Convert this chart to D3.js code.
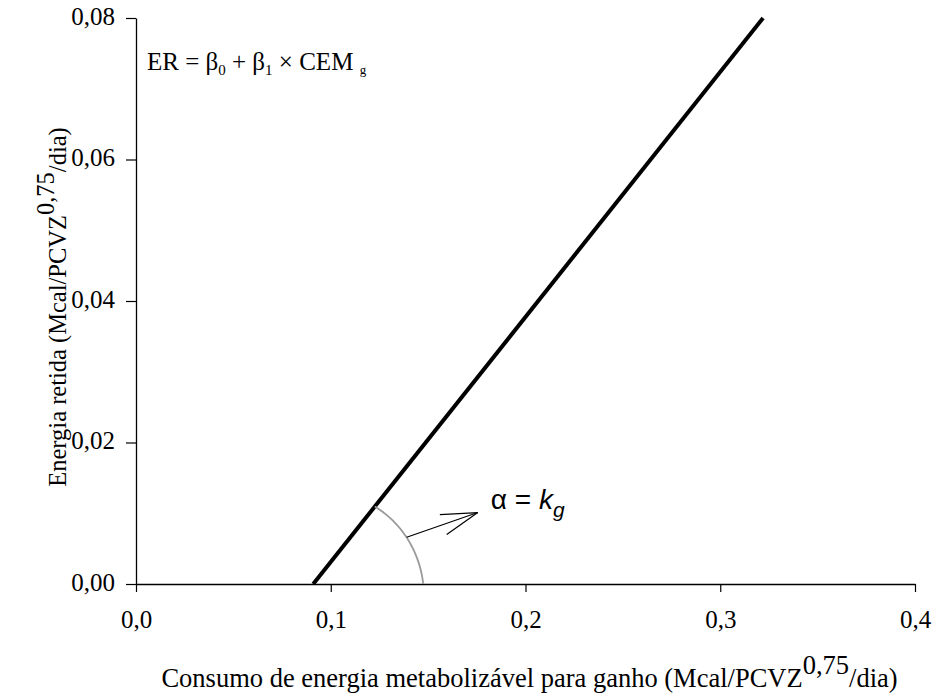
<!DOCTYPE html>
<html>
<head>
<meta charset="utf-8">
<script src="https://cdn.jsdelivr.net/npm/d3@7"></script>
<style>
  html, body { margin: 0; padding: 0; background: #fff; }
  svg { display: block; }
</style>
</head>
<body>
<svg id="chart" width="938" height="699"></svg>
<script>
// ---- data ----
const xTicks = [0.0, 0.1, 0.2, 0.3, 0.4];
const yTicks = [0.00, 0.02, 0.04, 0.06, 0.08];
const xTickLabels = ["0,0", "0,1", "0,2", "0,3", "0,4"];
const yTickLabels = ["0,00", "0,02", "0,04", "0,06", "0,08"];
const lineX = [0.091, 0.322];      // CEMg
const lineY = [0.000, 0.080];      // ER
const arrowFrom = [0.139, 0.0066];
const arrowTo = [0.1755, 0.0101];
const xTitle = "Consumo de energia metabolizável para ganho (Mcal/PCVZ";
const yTitle = "Energia retida (Mcal/PCVZ";
const unitSup = "0,75";
const unitEnd = "/dia)";

// ---- layout ----
const margin = { left: 136, right: 23, top: 18, bottom: 115 };
const W = 938, H = 699;
const svg = d3.select("#chart");
const x = d3.scaleLinear().domain([0, 0.4]).range([margin.left, W - margin.right]);
const y = d3.scaleLinear().domain([0, 0.08]).range([H - margin.bottom, margin.top]);
const serif = "'Liberation Serif', 'Times New Roman', serif";
const sans = "'Liberation Sans', Arial, sans-serif";

// axes
const xAxis = d3.axisBottom(x).tickValues(xTicks).tickSize(8).tickSizeOuter(0)
  .tickFormat((d, i) => xTickLabels[i]);
const gx = svg.append("g").attr("transform", `translate(0,${y(0)})`).call(xAxis);
gx.select(".domain").attr("stroke", "#000").attr("stroke-width", 1.3);
gx.selectAll(".tick line").attr("stroke", "#000").attr("stroke-width", 1.2);
gx.selectAll(".tick text").attr("font-family", serif).attr("font-size", 25)
  .attr("fill", "#000").attr("y", 44).attr("dy", 0);

const yAxis = d3.axisLeft(y).tickValues(yTicks).tickSize(10).tickSizeOuter(0)
  .tickFormat((d, i) => yTickLabels[i]);
const gy = svg.append("g").attr("transform", `translate(${x(0)},0)`).call(yAxis);
gy.select(".domain").attr("stroke", "#000").attr("stroke-width", 1.3);
gy.selectAll(".tick line").attr("stroke", "#000").attr("stroke-width", 1.2);
gy.selectAll(".tick text").attr("font-family", serif).attr("font-size", 25)
  .attr("fill", "#000").attr("x", -21).attr("dy", "0.25em");

// regression line
const pts = lineX.map((v, i) => [v, lineY[i]]);
svg.append("path").datum(pts)
  .attr("d", d3.line().x(d => x(d[0])).y(d => y(d[1])))
  .attr("fill", "none").attr("stroke", "#000").attr("stroke-width", 4);

// angle arc (centered at the x-intercept)
const cx = x(lineX[0]), cy = y(lineY[0]);
const ang = Math.atan2(y(lineY[0]) - y(lineY[1]), x(lineX[1]) - x(lineX[0]));
const r0 = 110, r1 = 99;
const arcPts = d3.range(0, 41).map(k => {
  const t = k / 40, a = t * ang, r = r0 + (r1 - r0) * t;
  return [cx + r * Math.cos(a), cy - r * Math.sin(a)];
});
svg.append("path").attr("d", d3.line()(arcPts))
  .attr("fill", "none").attr("stroke", "#9a9a9a").attr("stroke-width", 1.8);

// arrow
const ax0 = x(arrowFrom[0]), ay0 = y(arrowFrom[1]);
const ax1 = x(arrowTo[0]), ay1 = y(arrowTo[1]);
svg.append("line").attr("x1", ax0).attr("y1", ay0).attr("x2", ax1).attr("y2", ay1)
  .attr("stroke", "#000").attr("stroke-width", 1.2);
const dir = Math.atan2(ay0 - ay1, ax0 - ax1);
const headLen = 38, headAng = 16 * Math.PI / 180;
[dir - headAng, dir + headAng].forEach(a => {
  svg.append("line").attr("x1", ax1).attr("y1", ay1)
    .attr("x2", ax1 + headLen * Math.cos(a)).attr("y2", ay1 + headLen * Math.sin(a))
    .attr("stroke", "#000").attr("stroke-width", 1.2);
});

// alpha label
const al = svg.append("text").attr("x", ax1 + 13).attr("y", ay1 - 4)
  .attr("font-family", sans).attr("font-size", 28).attr("fill", "#000");
al.append("tspan").text("α = ");
al.append("tspan").attr("font-style", "italic").text("k");
al.append("tspan").attr("font-style", "italic").attr("font-size", 21).attr("dy", 8).text("g");

// equation
const eq = svg.append("text").attr("x", 147).attr("y", 70)
  .attr("font-family", serif).attr("font-size", 25).attr("fill", "#000");
eq.append("tspan").text("ER = β");
eq.append("tspan").attr("font-size", 15).attr("dy", 5).text("0");
eq.append("tspan").attr("dy", -5).text(" + β");
eq.append("tspan").attr("font-size", 15).attr("dy", 5).text("1");
eq.append("tspan").attr("dy", -5).text(" × CEM ");
eq.append("tspan").attr("font-size", 13).attr("dy", 4).text("g");

// x title
const xt = svg.append("text").attr("x", (x(0) + x(0.4)) / 2 + 4).attr("y", 687).attr("text-anchor", "middle")
  .attr("font-family", serif).attr("font-size", 26.5).attr("fill", "#000");
xt.append("tspan").text(xTitle);
xt.append("tspan").attr("dy", -13).text(unitSup);
xt.append("tspan").attr("dy", 13).text(unitEnd);

// y title
const yt = svg.append("text").attr("transform", `translate(66,307) rotate(-90)`)
  .attr("text-anchor", "middle")
  .attr("font-family", serif).attr("font-size", 24.5).attr("fill", "#000");
yt.append("tspan").text(yTitle);
yt.append("tspan").attr("dy", -12).text(unitSup);
yt.append("tspan").attr("dy", 12).text(unitEnd);
</script>
</body>
</html>
